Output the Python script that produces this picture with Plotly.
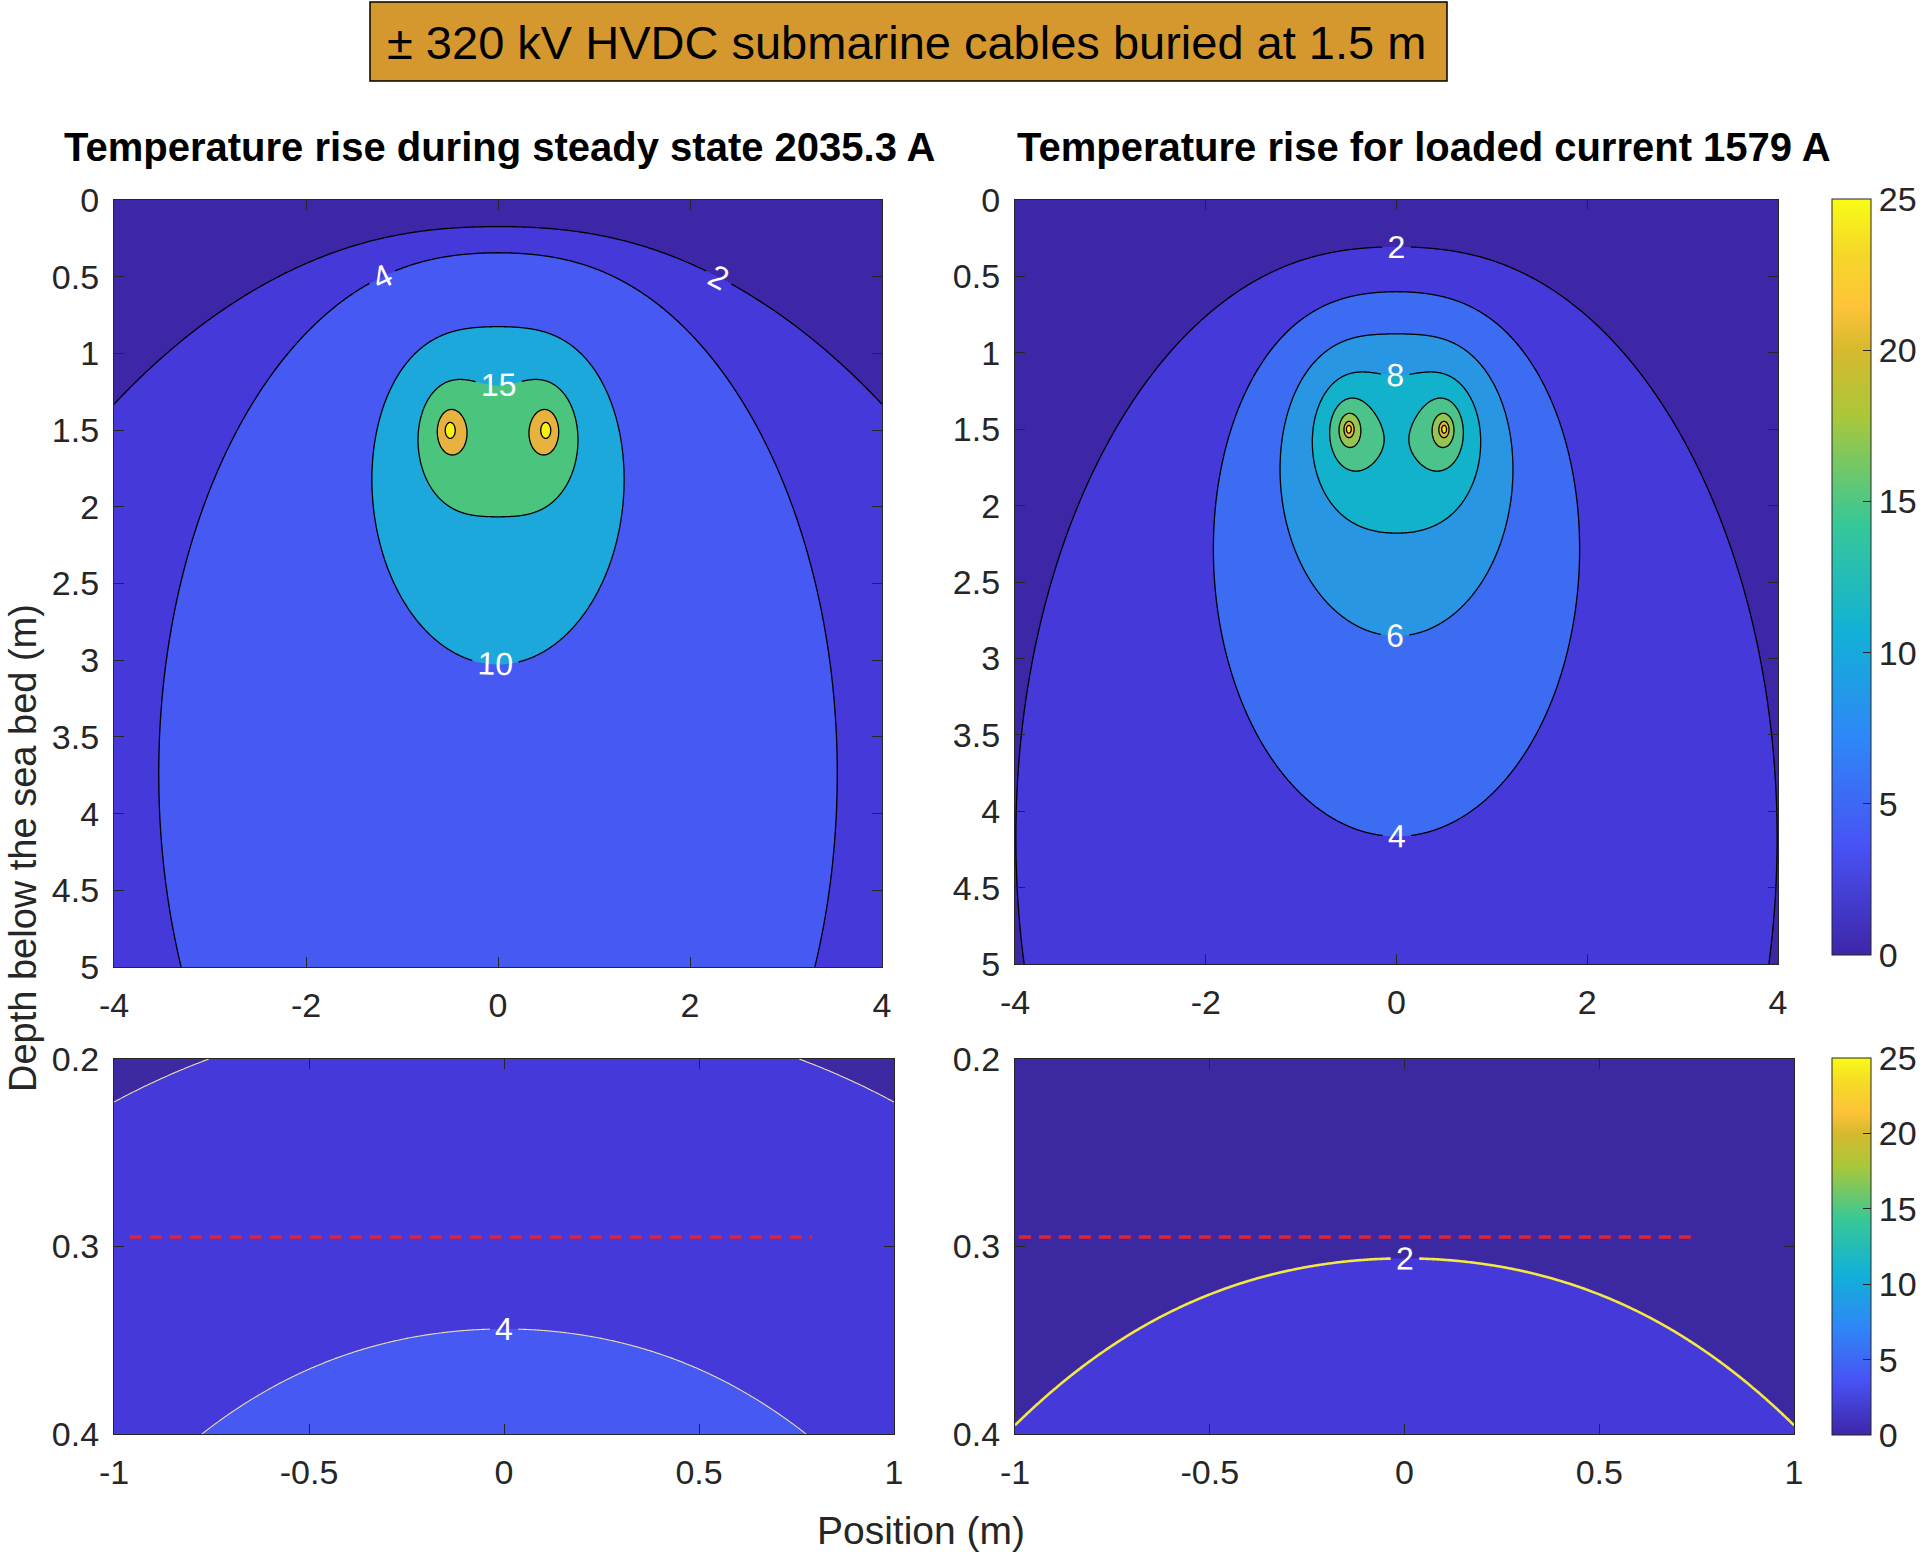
import numpy as np
import plotly.graph_objects as go

W, H = 1920, 1553
FONT = "Liberation Sans, Arial, Helvetica, sans-serif"
INK = "#262626"

# ---------------- data ----------------
cable_x = [-0.5, 0.5]            # m, horizontal cable positions
cable_depth = 1.5                # m, burial depth
cable_core_radius = 0.02         # m
currents_A = ["2035.3", "1579"]
heat_coef_steady = 4.80          # K, image-method coefficient (steady state 2035.3 A)
heat_coef_loaded = 2.70          # K, image-method coefficient (loaded 1579 A)

levels_steady = [2, 4, 10, 15, 20, 25]
levels_loaded = [2, 4, 6, 8, 10, 12, 14, 16]
levels_zoom_steady = [2, 4]
levels_zoom_loaded = [2, 4]

red_line_depth = 0.295
red_line_x_steady = [-0.96, 0.79]
red_line_x_loaded = [-0.99, 0.74]

x_main_range = [-4, 4]
y_main_range = [0, 5]
x_zoom_range = [-1, 1]
y_zoom_range = [0.2, 0.4]
x_main_ticks = [-4, -2, 0, 2, 4]
y_main_ticks = [0, 0.5, 1, 1.5, 2, 2.5, 3, 3.5, 4, 4.5, 5]
x_zoom_ticks = [-1, -0.5, 0, 0.5, 1]
y_zoom_ticks = [0.2, 0.3, 0.4]
cbar_ticks = [0, 5, 10, 15, 20, 25]

# ---------------- styles ----------------
steady_band_colors = ['#3E27A6', '#4539D9', '#4659F2', '#1DA8DC', '#4BC57E', '#E8B23E', '#F9F20F']
loaded_band_colors = ['#3E27A6', '#4539D9', '#3C6CF2', '#2896E2', '#12B1CC', '#4CC38B', '#94C653', '#EDB43A', '#F9E421']
zoom_steady_colors = ['#3D29A2', '#4539D9', '#4659F2']
zoom_loaded_colors = ['#3C29A2', '#4539D9', '#4659F2']
parula = [[0.0, '#3E26A8'], [0.1429, '#4852F4'], [0.2857, '#2E87F7'], [0.4286, '#12B1D6'],
          [0.5714, '#37C897'], [0.7143, '#ABC739'], [0.80, '#D6B92E'], [0.8571, '#FEC338'],
          [0.93, '#F5D828'], [1.0, '#F9FB15']]


def px_x(p):
    return p / W


def px_y(p):
    return 1 - p / H


def temperature_rise(X, Y, coef):
    T = np.zeros_like(X, dtype=float)
    for xc in cable_x:
        d = np.maximum(np.hypot(X - xc, Y - cable_depth), cable_core_radius)
        d_img = np.hypot(X - xc, Y + cable_depth)
        T += coef * np.log(d_img / d)
    return T


def band_scale(colors):
    n = len(colors) - 1
    return [[k / n, c] for k, c in enumerate(colors)]


def uniform_runs(levels):
    runs, i = [], 0
    while i < len(levels):
        j = i + 1
        if j < len(levels):
            step = levels[j] - levels[i]
            while j + 1 < len(levels) and levels[j + 1] - levels[j] == step:
                j += 1
            runs.append((levels[i], levels[j], step))
            i = j + 1
        else:
            runs.append((levels[i], levels[i], 1))
            i += 1
    return runs


x_main = np.unique(np.round(np.concatenate([np.linspace(-4, 4, 401), np.linspace(-0.8, -0.2, 121),
                                            np.linspace(0.2, 0.8, 121)]), 6))
y_main = np.unique(np.round(np.concatenate([np.linspace(0, 5, 251), np.linspace(1.2, 1.8, 121)]), 6))
XM, YM = np.meshgrid(x_main, y_main)
T_steady = temperature_rise(XM, YM, heat_coef_steady)
T_loaded = temperature_rise(XM, YM, heat_coef_loaded)

x_zoom = np.linspace(-1, 1, 401)
y_zoom = np.linspace(0.2, 0.4, 201)
XZ, YZ = np.meshgrid(x_zoom, y_zoom)
Tz_steady = temperature_rise(XZ, YZ, heat_coef_steady)
Tz_loaded = temperature_rise(XZ, YZ, heat_coef_loaded)

label_font = dict(family=FONT, size=32, color='white')

fig = go.Figure()

# --- top-left: non-uniform levels -> fill on rank-transformed field ---
g_steady = np.interp(T_steady, [-1] + levels_steady + [1e6], list(range(len(levels_steady) + 2)))
fig.add_trace(go.Contour(x=x_main, y=y_main, z=g_steady, autocontour=False,
                         contours=dict(start=1, end=len(levels_steady), size=1, coloring='fill', showlines=False),
                         colorscale=band_scale(steady_band_colors), showscale=False, line=dict(width=0),
                         hoverinfo='skip', xaxis='x', yaxis='y'))
for s, e, st in uniform_runs(levels_steady):
    fig.add_trace(go.Contour(x=x_main, y=y_main, z=T_steady, autocontour=False,
                             contours=dict(start=s, end=e, size=st, coloring='none', showlabels=True,
                                           labelfont=label_font),
                             line=dict(color='black', width=1.3), showscale=False, hoverinfo='skip',
                             xaxis='x', yaxis='y'))

# --- top-right ---
fig.add_trace(go.Contour(x=x_main, y=y_main, z=T_loaded, autocontour=False,
                         contours=dict(start=levels_loaded[0], end=levels_loaded[-1],
                                       size=levels_loaded[1] - levels_loaded[0], coloring='fill',
                                       showlabels=True, labelfont=label_font),
                         colorscale=band_scale(loaded_band_colors), showscale=False,
                         line=dict(color='black', width=1.3), hoverinfo='skip', xaxis='x2', yaxis='y2'))

# --- bottom-left ---
fig.add_trace(go.Contour(x=x_zoom, y=y_zoom, z=Tz_steady, autocontour=False,
                         contours=dict(start=levels_zoom_steady[0], end=levels_zoom_steady[-1],
                                       size=levels_zoom_steady[1] - levels_zoom_steady[0], coloring='fill',
                                       showlabels=True, labelfont=label_font),
                         colorscale=band_scale(zoom_steady_colors), showscale=False,
                         line=dict(color='#E9E3B0', width=1.1), hoverinfo='skip', xaxis='x3', yaxis='y3'))
fig.add_trace(go.Scatter(x=red_line_x_steady, y=[red_line_depth] * 2, mode='lines',
                         line=dict(color='#DC2434', width=3.5, dash='12px,8px'), hoverinfo='skip',
                         showlegend=False, xaxis='x3', yaxis='y3'))

# --- bottom-right ---
fig.add_trace(go.Contour(x=x_zoom, y=y_zoom, z=Tz_loaded, autocontour=False,
                         contours=dict(start=levels_zoom_loaded[0], end=levels_zoom_loaded[-1],
                                       size=levels_zoom_loaded[1] - levels_zoom_loaded[0], coloring='fill',
                                       showlabels=True, labelfont=label_font),
                         colorscale=band_scale(zoom_loaded_colors), showscale=False,
                         line=dict(color='#F4E842', width=2.6), hoverinfo='skip', xaxis='x4', yaxis='y4'))
fig.add_trace(go.Scatter(x=red_line_x_loaded, y=[red_line_depth] * 2, mode='lines',
                         line=dict(color='#DC2434', width=3.5, dash='12px,8px'), hoverinfo='skip',
                         showlegend=False, xaxis='x4', yaxis='y4'))


# --- colorbars ---
def cbar(top, bottom):
    return dict(x=px_x(1832), xanchor='left', xpad=0, ypad=0, thickness=39, thicknessmode='pixels',
                len=(bottom - top) / H, lenmode='fraction', y=px_y((top + bottom) / 2), yanchor='middle',
                outlinecolor=INK, outlinewidth=1, ticks='inside', ticklen=8, tickcolor=INK,
                tickmode='array', tickvals=cbar_ticks, ticktext=[f"{v:g}" for v in cbar_ticks],
                tickfont=dict(family=FONT, size=34, color=INK))


for ax, (t, b) in (('2', (199, 955)), ('4', (1058, 1435))):
    fig.add_trace(go.Scatter(x=[None], y=[None], mode='markers',
                             marker=dict(color=[0], cmin=0, cmax=25, colorscale=parula, showscale=True,
                                         colorbar=cbar(t, b)),
                             showlegend=False, hoverinfo='skip', xaxis='x' + ax, yaxis='y' + ax))


def axis(px0, px1, rng, ticks, anchor, horizontal=True):
    dom = [px_x(px0), px_x(px1)] if horizontal else [px_y(px1), px_y(px0)]
    return dict(domain=dom, range=rng, autorange=False, tickmode='array', tickvals=ticks,
                ticktext=[f"{v:g}" for v in ticks], ticks='inside', ticklen=10, tickwidth=1.2,
                tickcolor=INK, showline=True, linecolor=INK, linewidth=1.2, mirror='ticks',
                showgrid=False, zeroline=False, tickfont=dict(family=FONT, size=34, color=INK),
                ticklabelstandoff=8 if horizontal else 7, anchor=anchor)


layout = dict(
    width=W, height=H, margin=dict(l=0, r=0, t=0, b=0, autoexpand=False),
    paper_bgcolor='white', plot_bgcolor='white', showlegend=False,
    font=dict(family=FONT, color=INK),
    xaxis=axis(114, 882, x_main_range, x_main_ticks, 'y'),
    yaxis=axis(200, 967, y_main_range[::-1], y_main_ticks, 'x', horizontal=False),
    xaxis2=axis(1015, 1778, x_main_range, x_main_ticks, 'y2'),
    yaxis2=axis(200, 964, y_main_range[::-1], y_main_ticks, 'x2', horizontal=False),
    xaxis3=axis(114, 894, x_zoom_range, x_zoom_ticks, 'y3'),
    yaxis3=axis(1059, 1434, y_zoom_range[::-1], y_zoom_ticks, 'x3', horizontal=False),
    xaxis4=axis(1015, 1794, x_zoom_range, x_zoom_ticks, 'y4'),
    yaxis4=axis(1059, 1434, y_zoom_range[::-1], y_zoom_ticks, 'x4', horizontal=False),
)
fig.update_layout(**layout)

fig.add_shape(type='rect', xref='paper', yref='paper', x0=px_x(370), x1=px_x(1447), y0=px_y(81), y1=px_y(2),
              fillcolor='#D5982F', line=dict(color='black', width=1.5), layer='above')

ann = [
    dict(text='± 320 kV HVDC submarine cables buried at 1.5 m', x=px_x(906), y=px_y(42),
         font=dict(size=47, color='black')),
    dict(text=f'<b>Temperature rise during steady state {currents_A[0]} A</b>', x=px_x(499), y=px_y(147),
         font=dict(size=40, color='black')),
    dict(text=f'<b>Temperature rise for loaded current {currents_A[1]} A</b>', x=px_x(1424), y=px_y(147),
         font=dict(size=40, color='black')),
    dict(text='Depth below the sea bed (m)', x=px_x(23), y=px_y(848), textangle=-90,
         font=dict(size=38, color=INK)),
    dict(text='Position (m)', x=px_x(921), y=px_y(1530), font=dict(size=39, color=INK)),
]
for a in ann:
    a.update(xref='paper', yref='paper', showarrow=False, xanchor='center', yanchor='middle')
    a['font']['family'] = FONT
    fig.add_annotation(**a)

fig.write_html("out.html", config={'displayModeBar': False})
